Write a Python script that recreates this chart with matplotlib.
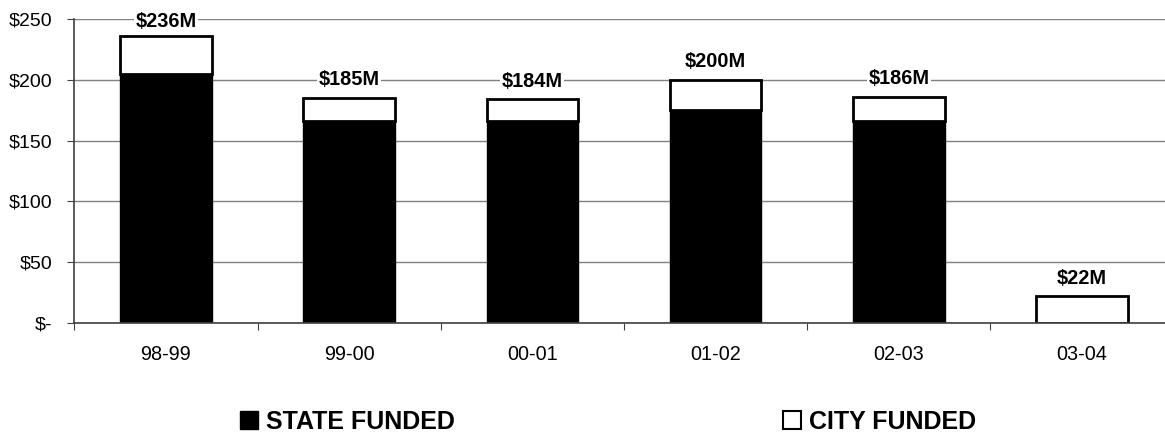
import matplotlib
matplotlib.use("Agg")
import matplotlib.pyplot as plt
from matplotlib.patches import Patch
import numpy as np

categories = ["98-99", "99-00", "00-01", "01-02", "02-03", "03-04"]
state_funded = [205, 166, 166, 175, 166, 0]
city_funded = [31, 19, 18, 25, 20, 22]
total_labels = ["$236M", "$185M", "$184M", "$200M", "$186M", "$22M"]
y_ticks = [0, 50, 100, 150, 200, 250]
y_tick_labels = ["$-", "$50", "$100", "$150", "$200", "$250"]
series_names = ["STATE FUNDED", "CITY FUNDED"]

plt.rcParams['font.family'] = ['Liberation Sans', 'DejaVu Sans']

W, H = 1165, 434
fig = plt.figure(figsize=(W / 100, H / 100), dpi=100)
left_px, top_px, bottom_px = 74.4, 19, 323
cat_w = 183.2
ax = fig.add_axes([left_px / W, 1 - bottom_px / H, cat_w * len(categories) / W, (bottom_px - top_px) / H])

x = np.arange(len(categories))
bw = 0.5
ax.bar(x, state_funded, width=bw, color="black", edgecolor="black", linewidth=1, zorder=2)
ax.bar(x, city_funded, width=bw, bottom=state_funded, color="white", edgecolor="black", linewidth=2, zorder=2)

ax.set_xlim(-0.5, len(categories) - 0.5)
ax.set_ylim(0, 250)
ax.set_yticks(y_ticks)
ax.set_yticklabels(y_tick_labels, fontsize=14)
ax.yaxis.grid(True, color="#808080", linewidth=1)
ax.set_axisbelow(True)

ax.set_xticks(np.arange(len(categories) + 1) - 0.5)
ax.set_xticklabels([])
ax.set_xticks(x, minor=True)
ax.set_xticklabels(categories, minor=True, fontsize=14.3)
ax.tick_params(axis="x", which="minor", length=0, pad=16)
ax.tick_params(axis="x", which="major", length=5, direction="out", color="#404040")
ax.tick_params(axis="y", length=5, direction="out", color="#404040", pad=11)

for s in ["top", "right"]:
    ax.spines[s].set_visible(False)
for s in ["left", "bottom"]:
    ax.spines[s].set_color("#404040")
    ax.spines[s].set_linewidth(1.2)

totals = [a + b for a, b in zip(state_funded, city_funded)]
for i, (t, lab) in enumerate(zip(totals, total_labels)):
    y = min(t + 15, 248)
    ax.text(i, y, lab, ha="center", va="center", fontsize=14.4, fontweight="bold",
            bbox=dict(facecolor="white", edgecolor="none", pad=1), zorder=5)

handles = [Patch(facecolor="black", edgecolor="black"),
           Patch(facecolor="white", edgecolor="black", linewidth=1.5)]
leg_x = [240 / W, 783 / W]
for h, name, lx in zip(handles, series_names, leg_x):
    fig.legend([h], [name], loc="center left", bbox_to_anchor=(lx, 1 - 422 / H),
               frameon=False, handlelength=0.72, handleheight=0.72, handletextpad=0.32,
               prop={"weight": "bold", "size": 18}, borderaxespad=0, borderpad=0)

fig.savefig("out.png", dpi=100)
